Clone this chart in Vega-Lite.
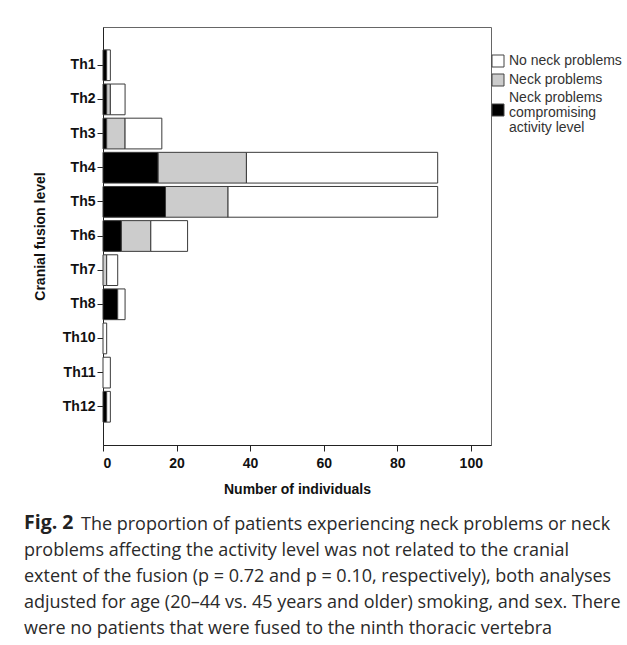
{
  "$schema": "https://vega.github.io/schema/vega-lite/v6.json",
  "width": 388,
  "height": 418,
  "autosize": {"type": "none"},
  "padding": {"left": 103, "top": 27, "right": 136, "bottom": 200},
  "background": "white",
  "config": {
    "view": {"stroke": "#666", "strokeWidth": 1},
    "axis": {"labelFont": "Liberation Sans", "titleFont": "Liberation Sans", "labelColor": "#111", "titleColor": "#111", "domainColor": "#222", "tickColor": "#222", "grid": false}
  },
  "title": {
    "text": "Fig. 2",
    "subtitle": [
      "\u200B\u2003\u2003\u2003\u2009The proportion of patients experiencing neck problems or neck",
      "problems affecting the activity level was not related to the cranial",
      "extent of the fusion (p = 0.72 and p = 0.10, respectively), both analyses",
      "adjusted for age (20–44 vs. 45 years and older) smoking, and sex. There",
      "were no patients that were fused to the ninth thoracic vertebra"
    ],
    "orient": "bottom",
    "anchor": "start",
    "frame": "group",
    "dx": -79,
    "offset": 18,
    "font": "Open Sans",
    "fontWeight": "bold",
    "fontSize": 19.5,
    "lineHeight": 19,
    "color": "#222",
    "subtitleFont": "Open Sans",
    "subtitleFontSize": 18,
    "subtitleFontWeight": "normal",
    "subtitleColor": "#2a2a2a",
    "subtitleLineHeight": 26.2,
    "subtitlePadding": -18
  },
  "data": {
    "values": [
      {"level": "Th1", "category": "Neck problems compromising activity level", "count": 1},
      {"level": "Th1", "category": "No neck problems", "count": 1},
      {"level": "Th2", "category": "Neck problems compromising activity level", "count": 1},
      {"level": "Th2", "category": "Neck problems", "count": 1},
      {"level": "Th2", "category": "No neck problems", "count": 4},
      {"level": "Th3", "category": "Neck problems compromising activity level", "count": 1},
      {"level": "Th3", "category": "Neck problems", "count": 5},
      {"level": "Th3", "category": "No neck problems", "count": 10},
      {"level": "Th4", "category": "Neck problems compromising activity level", "count": 15},
      {"level": "Th4", "category": "Neck problems", "count": 24},
      {"level": "Th4", "category": "No neck problems", "count": 52},
      {"level": "Th5", "category": "Neck problems compromising activity level", "count": 17},
      {"level": "Th5", "category": "Neck problems", "count": 17},
      {"level": "Th5", "category": "No neck problems", "count": 57},
      {"level": "Th6", "category": "Neck problems compromising activity level", "count": 5},
      {"level": "Th6", "category": "Neck problems", "count": 8},
      {"level": "Th6", "category": "No neck problems", "count": 10},
      {"level": "Th7", "category": "Neck problems", "count": 1},
      {"level": "Th7", "category": "No neck problems", "count": 3},
      {"level": "Th8", "category": "Neck problems compromising activity level", "count": 4},
      {"level": "Th8", "category": "No neck problems", "count": 2},
      {"level": "Th10", "category": "No neck problems", "count": 1},
      {"level": "Th11", "category": "No neck problems", "count": 2},
      {"level": "Th12", "category": "Neck problems compromising activity level", "count": 1},
      {"level": "Th12", "category": "No neck problems", "count": 1}
    ]
  },
  "transform": [
    {"calculate": "indexof(['Neck problems compromising activity level', 'Neck problems', 'No neck problems'], datum.category)", "as": "stackOrder"}
  ],
  "mark": {"type": "bar", "stroke": "#3a3a3a", "strokeWidth": 1},
  "encoding": {
    "y": {
      "field": "level",
      "type": "nominal",
      "sort": ["Th1", "Th2", "Th3", "Th4", "Th5", "Th6", "Th7", "Th8", "Th10", "Th11", "Th12"],
      "scale": {"paddingInner": 0.1, "paddingOuter": 0.67},
      "axis": {"title": "Cranial fusion level", "titleFontSize": 14, "titleFontWeight": "bold", "titlePadding": 15, "labelFontSize": 14, "labelFontWeight": "bold", "tickSize": 6, "labelPadding": 2}
    },
    "x": {
      "field": "count",
      "type": "quantitative",
      "stack": "zero",
      "scale": {"domain": [0, 105.5], "nice": false},
      "axis": {"title": "Number of individuals", "values": [0, 20, 40, 60, 80, 100], "titleFontSize": 14, "titleFontWeight": "bold", "titlePadding": 12, "labelFontSize": 14, "labelFontWeight": "bold", "tickSize": 6, "labelPadding": 5}
    },
    "color": {
      "field": "category",
      "type": "nominal",
      "scale": {
        "domain": ["No neck problems", "Neck problems", "Neck problems compromising activity level"],
        "range": ["#ffffff", "#cccccc", "#000000"]
      },
      "legend": {
        "title": null,
        "orient": "none",
        "legendX": 388,
        "legendY": 27,
        "padding": 0,
        "symbolType": "square",
        "symbolSize": 144,
        "symbolStrokeColor": "#444",
        "symbolStrokeWidth": 1,
        "symbolOpacity": 1,
        "labelFont": "Liberation Sans",
        "labelFontSize": 14,
        "labelColor": "#333",
        "labelOffset": 4,
        "labelLimit": 300,
        "rowPadding": 3,
        "labelExpr": "datum.label == 'Neck problems compromising activity level' ? ['Neck problems', 'compromising', 'activity level'] : datum.label",
        "encode": {
          "labels": {
            "update": {
              "lineHeight": {"value": 15},
              "dy": {"signal": "datum.label == 'Neck problems compromising activity level' ? -12 : 0"}
            }
          }
        }
      }
    },
    "order": {"field": "stackOrder", "type": "quantitative"}
  }
}
